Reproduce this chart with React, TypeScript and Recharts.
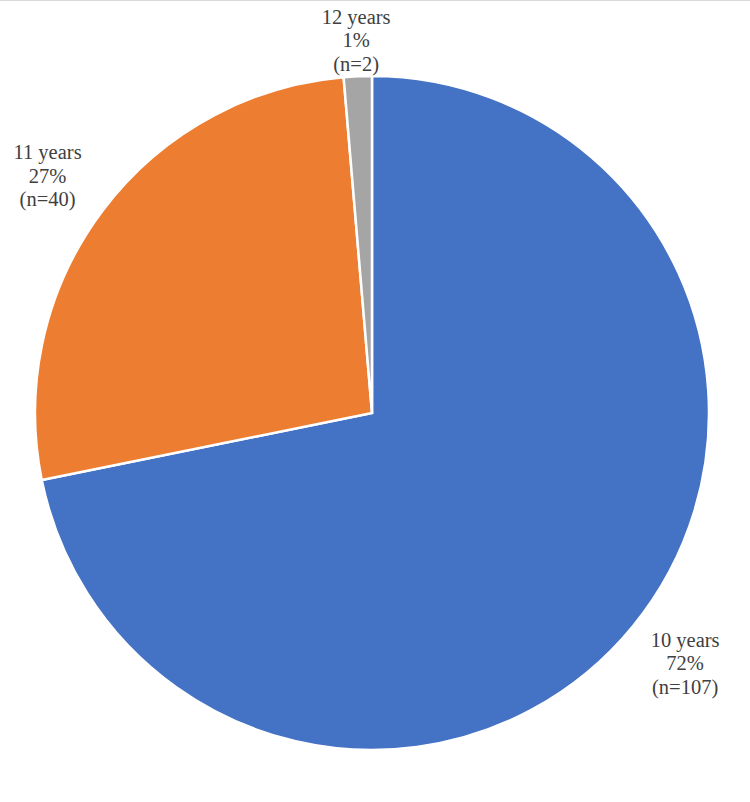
import { PieChart, Pie, Cell } from 'recharts';

const categories = ['10 years', '11 years', '12 years'];
const counts = [107, 40, 2];
const COLORS = ['#4472C4', '#ED7D31', '#A5A5A5'];

const data = categories.map((name, i) => ({ name, value: counts[i] }));

const RADIAN = Math.PI / 180;

function renderLabel(props: any) {
  const { cx, cy, midAngle, outerRadius, percent, name, value } = props;
  const s = Math.sin(-midAngle * RADIAN);
  const c = Math.cos(-midAngle * RADIAN);
  // label boxes sit a little further out on the sides than at the top
  const rx = outerRadius + 38 + 38 * Math.abs(c);
  const ry = outerRadius + 35 + 30 * Math.abs(c);
  const x = cx + rx * c;
  const y = cy + ry * s;
  const lines = [name, `${Math.round(percent * 100)}%`, `(n=${value})`];
  return (
    <text
      x={x}
      y={y - 23.5}
      textAnchor="middle"
      dominantBaseline="central"
      fill="#404040"
      fontFamily="'Liberation Serif', 'Times New Roman', serif"
      fontSize={20.5}
    >
      {lines.map((l, i) => (
        <tspan key={i} x={x} dy={i === 0 ? 0 : 23.5}>
          {l}
        </tspan>
      ))}
    </text>
  );
}

export default function App() {
  return (
    <div
      style={{
        position: 'absolute',
        top: 0,
        left: 0,
        width: 750,
        height: 802,
        background: '#fff',
        borderTop: '1px solid #d9d9d9',
        boxSizing: 'border-box',
      }}
    >
      <PieChart width={750} height={801}>
        <Pie
          data={data}
          dataKey="value"
          nameKey="name"
          cx={367}
          cy={407}
          outerRadius={337}
          startAngle={90}
          endAngle={-270}
          stroke="#fff"
          strokeWidth={2.5}
          label={renderLabel}
          labelLine={false}
          isAnimationActive={false}
        >
          {data.map((_, i) => (
            <Cell key={i} fill={COLORS[i]} />
          ))}
        </Pie>
      </PieChart>
    </div>
  );
}
